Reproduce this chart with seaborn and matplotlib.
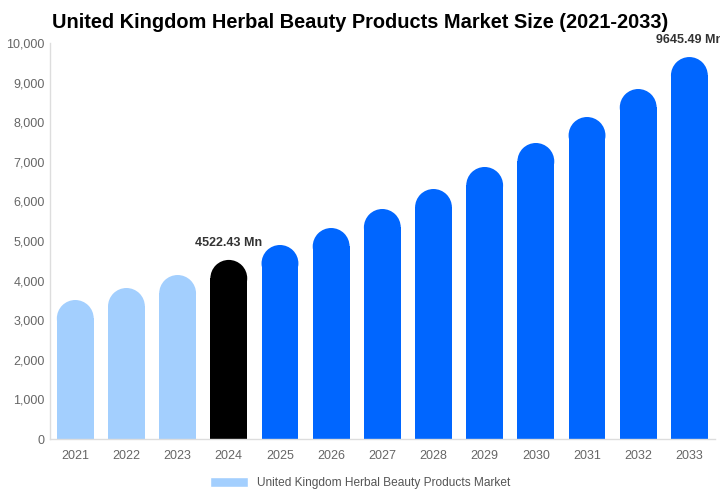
import matplotlib
matplotlib.use('Agg')
import matplotlib.pyplot as plt
import seaborn as sns
from matplotlib.patches import Ellipse, Patch

# 데이터
years = ['2021', '2022', '2023', '2024', '2025', '2026', '2027',
         '2028', '2029', '2030', '2031', '2032', '2033']
values = [3510, 3813, 4141, 4522.43, 4899, 5328, 5808,
          6313, 6869, 7475, 8131, 8838, 9645.49]
bar_colors = ['#a3cffe'] * 3 + ['#000000'] + ['#0066ff'] * 9
labels = {'2024': '4522.43 Mn', '2033': '9645.49 Mn'}
legend_label = 'United Kingdom Herbal Beauty Products Market'

sns.set_style('white')
plt.rcParams['font.family'] = ['Liberation Sans', 'DejaVu Sans']

fig = plt.figure(figsize=(7.2, 5), dpi=100)
ax = fig.add_axes([0.069, 0.122, 0.924, 0.792])

sns.barplot(x=years, y=values, hue=years, palette=bar_colors,
            width=0.72, legend=False, saturation=1, ax=ax)
ax.set_xlim(-0.5, len(years) - 0.5)
ax.set_ylim(0, 10000)

# 둥근 막대 윗부분
fig.canvas.draw()
bbox = ax.get_window_extent()
px_per_y = bbox.height / 10000
px_per_x = bbox.width / len(years)
for p in ax.patches:
    w = p.get_width()
    h = p.get_height()
    r_y = (w * px_per_x / 2) / px_per_y
    p.set_height(h - r_y + 10)
    p.set_linewidth(0)
    ax.add_patch(Ellipse((p.get_x() + w / 2, h - r_y), w, 2 * r_y,
                         facecolor=p.get_facecolor(), linewidth=0))

for i, y in enumerate(years):
    if y in labels:
        ax.text(i, values[i] + 280, labels[y], ha='center', va='bottom',
                fontsize=9, fontweight='bold', color='#333333', clip_on=False)

ax.set_yticks(range(0, 10001, 1000))
ax.set_yticklabels([f'{v:,}' for v in range(0, 10001, 1000)])
ax.tick_params(axis='both', length=0, labelsize=9, colors='#666666')
ax.tick_params(axis='x', pad=8)
for s in ['top', 'right']:
    ax.spines[s].set_visible(False)
for s in ['left', 'bottom']:
    ax.spines[s].set_color('#dddddd')
    ax.spines[s].set_linewidth(1)

fig.suptitle('United Kingdom Herbal Beauty Products Market Size (2021-2033)',
             x=0.5, y=0.975, fontsize=14.4, fontweight='bold', va='top',
             color='black')

fig.legend(handles=[Patch(facecolor='#a3cffe', label=legend_label)],
           loc='center', bbox_to_anchor=(0.5, 0.034), frameon=False,
           fontsize=8.6, labelcolor='#555555', handlelength=3.2,
           handleheight=1.0, handletextpad=0.7)

fig.savefig('out.png', dpi=100)
